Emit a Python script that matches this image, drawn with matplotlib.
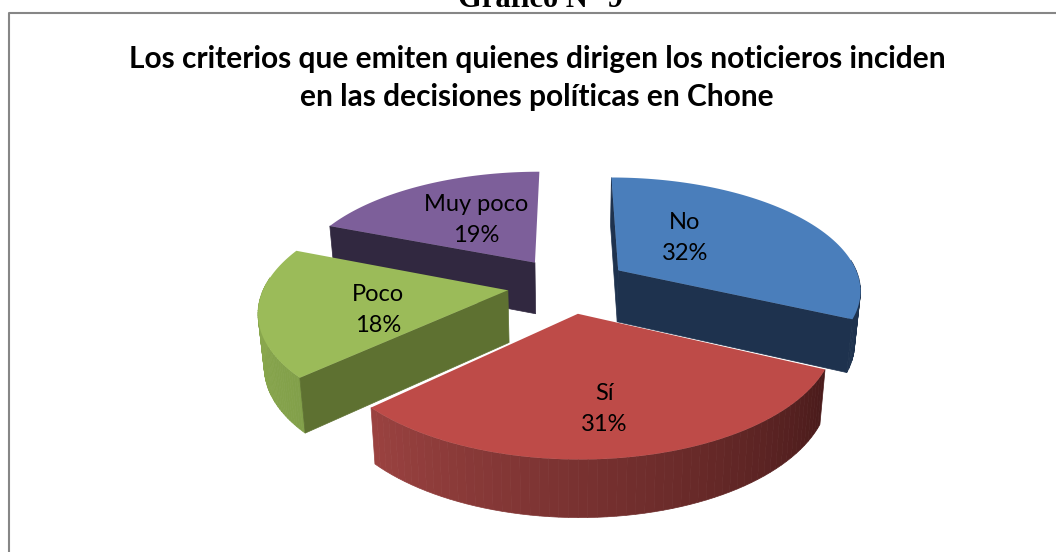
import numpy as np
import matplotlib
matplotlib.use("Agg")
import matplotlib.pyplot as plt
from matplotlib.colors import LinearSegmentedColormap

labels = ["No", "Sí", "Poco", "Muy poco"]
values = [32, 31, 18, 19]
percent_labels = ["32%", "31%", "18%", "19%"]
title = "Los criterios que emiten quienes dirigen los noticieros inciden\nen las decisiones políticas en Chone"
header = "Gráfico N° 9"

top_colors = ["#4a7ebb", "#be4b48", "#9bbb59", "#7d5f9a"]
cut_colors = ["#1e324e", "#4b1c1b", "#5e7131", "#312840"]
wall_dark = ["#1e324e", "#4a1b1b", "#82a04a", "#312840"]
wall_light = ["#1e324e", "#9a4240", "#8fad50", "#312840"]

# projection of the tilted pie, in pixels
cx, cy = 568, 285
radius = 243
flat = 112
persp = 0.16
height = 52
explode_x = 0.25
explode_y = 0.25


def project(x, y, bottom=False):
    s = 1 / (1 + persp * y)
    px = radius * x * s
    py = flat * y * s
    if bottom:
        return cx + px * 0.98, cy - py + height * np.sqrt(s)
    return cx + px, cy - py


def arc(a0, a1, ox, oy, bottom=False, n=80):
    t = np.radians(np.linspace(a0, a1, n))
    return project(ox + np.sin(t), oy + np.cos(t), bottom)


fig = plt.figure(figsize=(10.56, 5.52), dpi=100)
ax = fig.add_axes([0, 0, 1, 1])
ax.set_xlim(0, 1056)
ax.set_ylim(552, 0)
ax.axis("off")

# frame of the chart and the caption cut off above it
ax.plot([9, 9, 1056], [552, 13, 13], color="#868686", lw=1.5)
ax.text(540, 7, header, ha="center", va="baseline", family="Liberation Serif",
        fontweight="bold", fontsize=22, color="black", clip_on=True)
ax.text(537, 78, title, ha="center", va="center", family="Lato", fontweight="bold",
        fontsize=21.5, color="black", linespacing=1.42)

edges = np.cumsum([0] + values) / sum(values) * 360
# which cut faces look at the viewer: start edge, end edge
show_faces = [(True, True), (False, False), (True, False), (True, False)]
label_xy = [(685, 238), (604, 409), (378, 310), (476, 220)]

# back slices first so the red one ends up on top
for i in [3, 2, 0, 1]:
    a0, a1 = edges[i], edges[i + 1]
    mid = np.radians((a0 + a1) / 2)
    ox, oy = explode_x * np.sin(mid), explode_y * np.cos(mid)

    # outer wall, split in strips for the shading
    cmap = LinearSegmentedColormap.from_list("wall", [wall_dark[i], wall_light[i]])
    angles = np.linspace(a0, a1, 61)
    for j in range(60):
        if np.cos(np.radians(angles[j])) > 0.1:
            continue
        xt, yt = arc(angles[j], angles[j + 1], ox, oy, n=4)
        xb, yb = arc(angles[j], angles[j + 1], ox, oy, bottom=True, n=4)
        ax.fill(np.r_[xt, xb[::-1]], np.r_[yt, yb[::-1]], color=cmap(j / 59), lw=0.5, zorder=2)

    # the cut faces from the apex down to the rim
    for a, show in zip((a0, a1), show_faces[i]):
        if not show:
            continue
        t = np.radians(a)
        xs, ys = project(np.array([ox, ox + np.sin(t)]), np.array([oy, oy + np.cos(t)]))
        xb, yb = project(np.array([ox, ox + np.sin(t)]), np.array([oy, oy + np.cos(t)]), bottom=True)
        ax.fill(np.r_[xs, xb[::-1]], np.r_[ys, yb[::-1]], color=cut_colors[i], lw=0.5, zorder=2)

    # top face
    xa, ya = arc(a0, a1, ox, oy)
    x0, y0 = project(ox, oy)
    ax.fill(np.r_[x0, xa], np.r_[y0, ya], color=top_colors[i], lw=0, zorder=2)

    ax.text(label_xy[i][0], label_xy[i][1], labels[i] + "\n" + percent_labels[i], ha="center",
            va="center", family="Lato", fontsize=17, color="black", linespacing=1.55, zorder=5)

fig.savefig("out.png", dpi=100, facecolor="white")
